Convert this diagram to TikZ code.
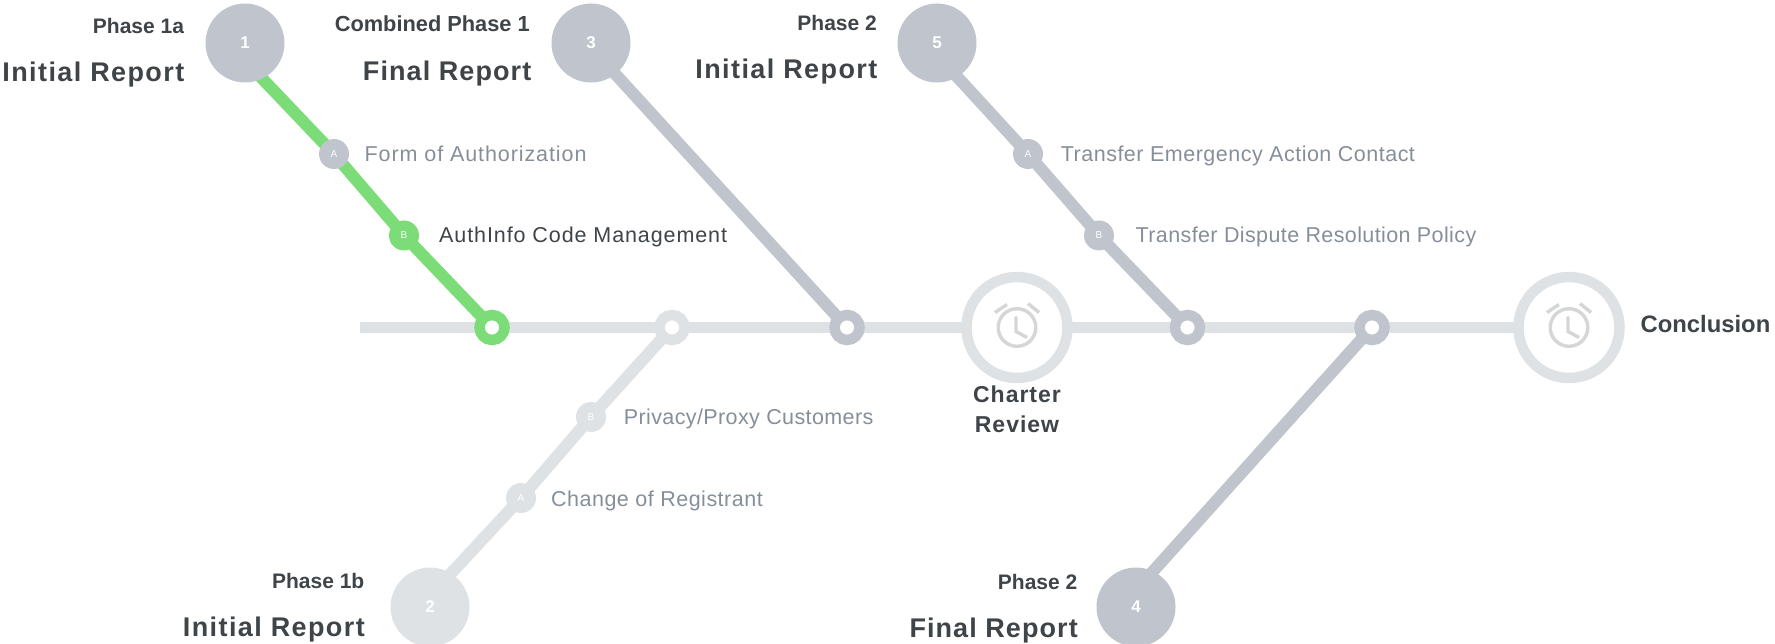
\documentclass[tikz,border=0pt]{standalone}
\usepackage{fontspec}
\usetikzlibrary{backgrounds,calc}
\setmainfont{Liberation Sans}
\newfontfamily\lblfont{Liberation Sans}[LetterSpace=2.3]
\newfontfamily\lbltight{Liberation Sans}[LetterSpace=1.8]
\newfontfamily\lblwide{Liberation Sans}[LetterSpace=4.2]
\newfontfamily\headfont{Liberation Sans}[LetterSpace=5.2]
\newfontfamily\headtight{Liberation Sans}[LetterSpace=4.0]
\newfontfamily\midfont{Liberation Sans}[LetterSpace=4.3]
\definecolor{slateC}{HTML}{BFC4CD}
\definecolor{paleC}{HTML}{DFE2E5}
\definecolor{greenC}{HTML}{7BDC78}
\definecolor{darkC}{HTML}{3F4449}
\definecolor{midC}{HTML}{868E99}
\definecolor{clockC}{HTML}{D5D6D6}
\tikzset{
  x=1pt,y=-1pt,
  bigdot/.style={circle,fill=#1,draw=none,minimum size=79pt,inner sep=0pt,text=white,font=\bfseries\fontsize{17}{17}\selectfont},
  subdot/.style={circle,fill=#1,draw=none,minimum size=30pt,inner sep=0pt,outer sep=-1.5pt,text=white,font=\fontsize{10}{10}\selectfont},
  joint/.style={circle,fill=white,draw=#1,line width=10.5pt,minimum size=25pt,inner sep=0pt,outer sep=0pt},
  clockring/.style={circle,fill=white,draw=paleC,line width=10.5pt,minimum size=101pt,inner sep=0pt,outer sep=0pt},
  limb/.style={line width=12pt,draw=#1},
  spine/.style={line width=11pt,draw=paleC},
  phase/.style={anchor=base east,inner sep=0pt,text=darkC,font=\bfseries\fontsize{21}{21}\selectfont},
  report/.style={anchor=base east,inner sep=0pt,text=darkC,font=\headfont\bfseries\fontsize{27}{27}\selectfont},
  reportb/.style={anchor=base east,inner sep=0pt,text=darkC,font=\headtight\bfseries\fontsize{27}{27}\selectfont},
  topic/.style={anchor=base west,inner sep=0pt,text=midC,font=\lblfont\fontsize{21.5}{21.5}\selectfont},
  topictight/.style={anchor=base west,inner sep=0pt,text=midC,font=\lbltight\fontsize{21.5}{21.5}\selectfont},
  topicwide/.style={anchor=base west,inner sep=0pt,text=midC,font=\lblwide\fontsize{21.5}{21.5}\selectfont},
  miles/.style={anchor=base,inner sep=0pt,text=darkC,font=\midfont\bfseries\fontsize{23}{23}\selectfont},
  clockline/.style={draw=clockC,line width=3.4pt}
}
\newcommand{\clockicon}[1]{%
  \draw[clockline] (#1) circle[radius=18.8pt];
  \draw[clockline] ($(#1)+(-1,-11)$) -- ($(#1)+(-1,4)$) -- ($(#1)+(10,10)$);
  \draw[clockline] ($(#1)+(-22,-15)$) -- ($(#1)+(-10,-23)$);
  \draw[clockline] ($(#1)+(11,-24)$) -- ($(#1)+(22,-15)$);
}
\begin{document}
\begin{tikzpicture}
\useasboundingbox (0,0) rectangle (1775,644);
% main nodes
\coordinate (start) at (360,327.5);
\node[joint=greenC] (j1) at (492,327.5) {};
\node[joint=paleC] (j2) at (672,327.5) {};
\node[joint=slateC] (j3) at (847,327.5) {};
\node[clockring] (ck1) at (1017,327.5) {};
\node[joint=slateC] (j4) at (1187.5,327.5) {};
\node[joint=slateC] (j5) at (1372,327.5) {};
\node[clockring] (ck2) at (1569,327.5) {};
% phase circles
\node[bigdot=slateC] (c1) at (245,43) {1};
\node[bigdot=slateC] (c3) at (591,43) {3};
\node[bigdot=slateC] (c5) at (937,43) {5};
\node[bigdot=paleC] (c2) at (430,607) {2};
\node[bigdot=slateC] (c4) at (1136,607) {4};
% hidden line ends under the phase circles
\coordinate (f1) at ($(c1)+(10,28)$);
\coordinate (f3) at ($(c3)+(16,22)$);
\coordinate (f5) at ($(c5)+(13,26)$);
\coordinate (f2) at ($(c2)+(12,-24)$);
\coordinate (f4) at ($(c4)+(11,-29)$);
% sub circles
\node[subdot=slateC] (a1) at (334,154) {A};
\node[subdot=greenC] (b1) at (404,235.5) {B};
\node[subdot=slateC] (a5) at (1028,154) {A};
\node[subdot=slateC] (b5) at (1099,235.5) {B};
\node[subdot=paleC] (b2) at (591,417) {B};
\node[subdot=paleC] (a2) at (521,498) {A};
% connectors
\begin{pgfonlayer}{background}
\draw[spine] (start) -- (j1) -- (j2) -- (j3) -- (ck1) -- (j4) -- (j5) -- (ck2);
\draw[limb=greenC] (f1) -- (a1) -- (b1) -- (j1);
\draw[limb=slateC] (f3) -- (j3);
\draw[limb=slateC] (f5) -- (a5) -- (b5) -- (j4);
\draw[limb=paleC] (f2) -- (a2) -- (b2) -- (j2);
\draw[limb=slateC] (f4) -- (j5);
\end{pgfonlayer}
% clocks
\clockicon{ck1}
\clockicon{ck2}
% labels
\node[phase] (t1) at (184.2,33.5) {Phase 1a};
\node[report] (t2) at (184.5,82) {Initial Report};
\node[phase,font=\bfseries\fontsize{21.8}{21.8}\selectfont] (t3) at (530,32) {Combined Phase 1};
\node[reportb] (t4) at (531.5,80.5) {Final Report};
\node[phase] (t5) at (877,30.5) {Phase 2};
\node[report] (t6) at (877.5,79) {Initial Report};
\node[phase] (t7) at (364.5,588.5) {Phase 1b};
\node[report] (t8) at (365,636.5) {Initial Report};
\node[phase] (t9) at (1077.5,589) {Phase 2};
\node[reportb] (t10) at (1078,637.5) {Final Report};
\node[topicwide] (l1) at (364.5,161.5) {Form of Authorization};
\node[topicwide,text=darkC] (l2) at (439,243) {AuthInfo Code Management};
\node[topic] (l3) at (1060.7,161.5) {Transfer Emergency Action Contact};
\node[topictight] (l4) at (1135.5,243) {Transfer Dispute Resolution Policy};
\node[topictight] (l5) at (623.7,424.5) {Privacy/Proxy Customers};
\node[topic] (l6) at (551,506) {Change of Registrant};
\node[miles] (m1) at (1017,402.5) {Charter};
\node[miles] (m2) at (1017,432.5) {Review};
\node[anchor=base west,inner sep=0pt,text=darkC,font=\bfseries\fontsize{23.8}{23.8}\selectfont] (m3) at (1640.5,332) {Conclusion};
\end{tikzpicture}
\end{document}
